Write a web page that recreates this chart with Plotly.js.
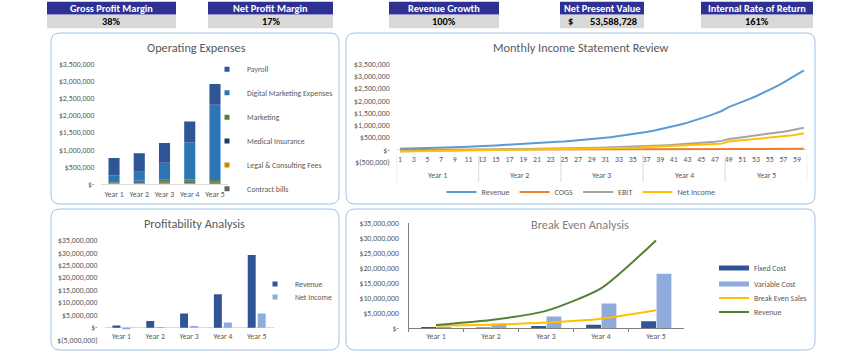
<!DOCTYPE html>
<html><head><meta charset="utf-8">
<script src="https://cdn.plot.ly/plotly-3.0.1.min.js"></script>
<style>html,body{margin:0;padding:0;background:#fff}#chart{width:850px;height:353px}</style>
</head><body><div id="chart"></div>
<script>
// ---------------- DATA ----------------
const years = ['Year 1','Year 2','Year 3','Year 4','Year 5'];

const kpiLabels = ['Gross Profit Margin','Net Profit Margin','Revenue Growth','Net Present Value','Internal Rate of Return'];
const kpiValues = ['38%','17%','100%','53,588,728','161%'];

// Operating expenses (stack bottom -> top)
const opexContract  = [15000, 16000, 17000, 18000, 19000];
const opexLegal     = [12000, 13000, 25000, 20000, 22000];
const opexMedical   = [20000, 22000, 24000, 26000, 28000];
const opexMarketing = [40000, 45000, 55000, 70000, 75000];
const opexDigital   = [160000, 260000, 500000, 1090000, 2170000];
const opexPayroll   = [510000, 540000, 580000, 600000, 610000];
const opexTickVals = [0,500000,1000000,1500000,2000000,2500000,3000000,3500000];
const opexTickText = ['$-','$500,000','$1,000,000','$1,500,000','$2,000,000','$2,500,000','$3,000,000','$3,500,000'];

// Monthly income statement
const months = [1,2,3,4,5,6,7,8,9,10,11,12,13,14,15,16,17,18,19,20,21,22,23,24,25,26,27,28,29,30,
  31,32,33,34,35,36,37,38,39,40,41,42,43,44,45,46,47,48,49,50,51,52,53,54,55,56,57,58,59,60];
const revMonthly = [45000,50000,55000,61000,68000,75000,83000,92000,102000,113000,126000,130000,
  155000,166000,178000,191000,205000,220000,236000,253000,271000,290000,311000,324000,
  340000,362000,386000,411000,438000,466000,496000,528000,562000,599000,638000,674000,
  725000,779000,836000,898000,964000,1035000,1112000,1194000,1282000,1377000,1479000,1589000,
  1750000,1852000,1959000,2073000,2193000,2320000,2455000,2597000,2748000,2907000,3076000,3254000];
const cogsMonthly = [2000,2000,2000,2000,3000,3000,3000,3000,4000,4000,4000,4000,
  5000,5000,5000,6000,6000,6000,7000,7000,7000,8000,8000,8000,
  9000,9000,10000,10000,11000,11000,12000,12000,13000,13000,14000,14000,
  15000,15000,16000,16000,17000,17000,18000,18000,19000,19000,20000,20000,
  22000,24000,30000,32000,33000,34000,35000,36000,37000,38000,39000,40000];
const ebitMonthly = [-55000,-51000,-47000,-44000,-41000,-38000,-34000,-31000,-27000,-24000,-20000,-16000,
  6000,10000,14000,18000,22000,26000,30000,34000,39000,44000,49000,54000,
  60000,65000,70000,76000,82000,88000,95000,102000,110000,118000,126000,135000,
  145000,158000,172000,187000,203000,220000,238000,258000,280000,305000,333000,365000,
  440000,475000,510000,545000,580000,615000,655000,695000,740000,790000,845000,905000];
const niMonthly = [-75000,-70000,-66000,-62000,-58000,-54000,-50000,-46000,-42000,-38000,-34000,-30000,
  5000,8000,11000,14000,17000,20000,23000,26000,29000,32000,36000,40000,
  35000,38000,42000,45000,49000,53000,57000,61000,65000,70000,75000,80000,
  115000,124000,133000,143000,153000,164000,176000,189000,203000,218000,234000,252000,
  340000,365000,390000,415000,440000,465000,490000,515000,545000,580000,625000,680000];
const monthTickVals = [1,3,5,7,9,11,13,15,17,19,21,23,25,27,29,31,33,35,37,39,41,43,45,47,49,51,53,55,57,59];
const monthTickText = ['1','3','5','7','9','11','13','15','17','19','21','23','25','27','29','31','33','35','37','39','41','43','45','47','49','51','53','55','57','59'];
const monthsPerYear = 12;
const monthlyTickVals = [-500000,0,500000,1000000,1500000,2000000,2500000,3000000,3500000];
const monthlyTickText = ['$(500,000)','$-','$500,000','$1,000,000','$1,500,000','$2,000,000','$2,500,000','$3,000,000','$3,500,000'];

// Profitability
const profRevenue   = [930000, 2700000, 5700000, 13400000, 29100000];
const profNetIncome = [-600000, 270000, 670000, 2100000, 5700000];
const profTickVals = [-5000000,0,5000000,10000000,15000000,20000000,25000000,30000000,35000000];
const profTickText = ['$(5,000,000)','$-','$5,000,000','$10,000,000','$15,000,000','$20,000,000','$25,000,000','$30,000,000','$35,000,000'];

// Break even
const beFixed    = [450000, 300000, 780000, 1220000, 2330000];
const beVariable = [450000, 1550000, 3900000, 8300000, 18200000];
const beSales    = [870000, 1200000, 1900000, 3200000, 6000000];
const beRevenue  = [1100000, 2770000, 5800000, 13300000, 29300000];
const beTickVals = [0,5000000,10000000,15000000,20000000,25000000,30000000,35000000];
const beTickText = ['$-','$5,000,000','$10,000,000','$15,000,000','$20,000,000','$25,000,000','$30,000,000','$35,000,000'];

// ---------------- STYLE / LAYOUT HELPERS ----------------
const W = 850, H = 353;
const px = x => x / W;
const py = y => 1 - y / H;
const FONT = 'Calibri, Carlito, Lato, "Open Sans", sans-serif';
const TXT = '#595959';

function rr(x0, y0, x1, y1, r) {
  return `M${px(x0+r)},${py(y0)} L${px(x1-r)},${py(y0)} Q${px(x1)},${py(y0)} ${px(x1)},${py(y0+r)} ` +
         `L${px(x1)},${py(y1-r)} Q${px(x1)},${py(y1)} ${px(x1-r)},${py(y1)} L${px(x0+r)},${py(y1)} ` +
         `Q${px(x0)},${py(y1)} ${px(x0)},${py(y1-r)} L${px(x0)},${py(y0+r)} Q${px(x0)},${py(y0)} ${px(x0+r)},${py(y0)} Z`;
}
function leg(textX, cy, extra) {
  return Object.assign({x: px(textX - 40), y: py(cy), xanchor: 'left', yanchor: 'middle',
    bgcolor: 'rgba(0,0,0,0)', borderwidth: 0, font: {family: FONT, size: 7.8, color: TXT},
    itemclick: false, itemdoubleclick: false}, extra || {});
}
function cumBase(arrs, i) { // base for stack level i, built from the data arrays
  return arrs[0].map((_, k) => arrs.slice(0, i).reduce((s, a) => s + a[k], 0));
}

const traces = [];

// ---- Operating expenses (stacked) ----
const opexStack = [opexContract, opexLegal, opexMedical, opexMarketing, opexDigital, opexPayroll];
const opexNames = ['Contract bills','Legal & Consulting Fees','Medical Insurance','Marketing','Digital Marketing Expenses','Payroll'];
const opexColors = ['#636363','#BF9000','#203864','#548235','#2E75B6','#2F5597'];
const opexLegY = [188.7, 165, 141, 117.3, 92.7, 69.3];
opexStack.forEach((arr, i) => {
  traces.push({type: 'bar', x: years, y: arr, base: cumBase(opexStack, i), width: 0.44, offset: -0.22,
    marker: {color: opexColors[i], line: {width: 0}}, xaxis: 'x', yaxis: 'y', showlegend: false, name: opexNames[i],
    hoverinfo: 'skip'});
  traces.push({type: 'scatter', mode: 'markers', x: [null], y: [null], name: opexNames[i],
    marker: {symbol: 'square', size: 5, color: opexColors[i]}, legend: 'legend' + (i === 0 ? '' : (i + 1)), showlegend: true});
});

// ---- Monthly ----
const mNames = ['Revenue','COGS','EBIT','Net Income'];
const mData = [revMonthly, cogsMonthly, ebitMonthly, niMonthly];
const mColors = ['#5B9BD5','#ED7D31','#A5A5A5','#FFC000'];
mData.forEach((arr, i) => {
  traces.push({type: 'scatter', mode: 'lines', x: months, y: arr, name: mNames[i],
    line: {color: mColors[i], width: 2}, xaxis: 'x2', yaxis: 'y2', legend: 'legend7', showlegend: true});
});

// ---- Profitability ----
traces.push({type: 'bar', x: years, y: profRevenue, width: 0.235, offset: -0.265, marker: {color: '#2F5597'},
  xaxis: 'x3', yaxis: 'y3', showlegend: false, name: 'Revenue'});
traces.push({type: 'bar', x: years, y: profNetIncome, width: 0.235, offset: 0.03, marker: {color: '#8FAADC'},
  xaxis: 'x3', yaxis: 'y3', showlegend: false, name: 'Net Income'});
traces.push({type: 'scatter', mode: 'markers', x: [null], y: [null], name: 'Revenue',
  marker: {symbol: 'square', size: 5, color: '#2F5597'}, legend: 'legend8'});
traces.push({type: 'scatter', mode: 'markers', x: [null], y: [null], name: 'Net Income',
  marker: {symbol: 'square', size: 5, color: '#8FAADC'}, legend: 'legend9'});

// ---- Break even ----
traces.push({type: 'bar', x: years, y: beFixed, width: 0.27, offset: -0.27, marker: {color: '#2F5597'},
  xaxis: 'x4', yaxis: 'y4', showlegend: false, name: 'Fixed Cost'});
traces.push({type: 'bar', x: years, y: beVariable, width: 0.27, offset: 0.01, marker: {color: '#8FAADC'},
  xaxis: 'x4', yaxis: 'y4', showlegend: false, name: 'Variable Cost'});
traces.push({type: 'scatter', mode: 'lines', x: years, y: beSales, name: 'Break Even Sales',
  line: {color: '#FFC000', width: 2, shape: 'spline', smoothing: 0.6}, xaxis: 'x4', yaxis: 'y4', legend: 'legend12'});
traces.push({type: 'scatter', mode: 'lines', x: years, y: beRevenue, name: 'Revenue',
  line: {color: '#548235', width: 2, shape: 'spline', smoothing: 0.6}, xaxis: 'x4', yaxis: 'y4', legend: 'legend13'});
traces.push({type: 'scatter', mode: 'lines', x: [null], y: [null], name: 'Fixed Cost',
  line: {color: '#2F5597', width: 5}, legend: 'legend10'});
traces.push({type: 'scatter', mode: 'lines', x: [null], y: [null], name: 'Variable Cost',
  line: {color: '#8FAADC', width: 5}, legend: 'legend11'});

// ---------------- LAYOUT ----------------
const tickF = {family: FONT, size: 7.8, color: TXT};
const layout = {
  width: W, height: H, margin: {l: 0, r: 0, t: 0, b: 0},
  paper_bgcolor: '#ffffff', plot_bgcolor: 'rgba(0,0,0,0)',
  barmode: 'overlay', showlegend: true,
  font: {family: FONT, color: TXT},
  // opex
  xaxis: {domain: [px(101.4), px(227.6)], anchor: 'y', type: 'category', range: [-0.5, 4.5],
    showline: true, linecolor: '#D9D9D9', linewidth: 1, ticks: '', showgrid: false, zeroline: false,
    tickfont: tickF, ticklabelstandoff: 3, fixedrange: true},
  yaxis: {domain: [py(184), py(64.3)], anchor: 'x', range: [0, 3500000], tickvals: opexTickVals, ticktext: opexTickText,
    showgrid: false, zeroline: false, showline: false, ticks: '', tickfont: tickF, ticklabelstandoff: 6, fixedrange: true},
  // monthly
  xaxis2: {domain: [px(396.6), px(807.3)], anchor: 'free', position: py(153), range: [0.5, 60.5],
    tickvals: monthTickVals, ticktext: monthTickText, showgrid: false, zeroline: false, showline: false, ticks: '',
    tickfont: tickF, tickangle: 0, fixedrange: true},
  yaxis2: {domain: [py(162), py(64.3)], anchor: 'x2', range: [-500000, 3500000], tickvals: monthlyTickVals, ticktext: monthlyTickText,
    showgrid: false, zeroline: true, zerolinecolor: '#D9D9D9', zerolinewidth: 1, showline: false, ticks: '',
    tickfont: tickF, ticklabelstandoff: 6, fixedrange: true},
  // profitability
  xaxis3: {domain: [px(104.5), px(273.6)], anchor: 'free', position: py(330), type: 'category', range: [-0.5, 4.5],
    showgrid: false, zeroline: false, showline: false, ticks: '', tickfont: tickF, fixedrange: true},
  yaxis3: {domain: [py(340.2), py(240.3)], anchor: 'x3', range: [-5000000, 35000000], tickvals: profTickVals, ticktext: profTickText,
    showgrid: false, zeroline: true, zerolinecolor: '#D9D9D9', zerolinewidth: 1, showline: false, ticks: '',
    tickfont: tickF, ticklabelstandoff: 6, fixedrange: true},
  // break even
  xaxis4: {domain: [px(408.5), px(683.5)], anchor: 'y4', type: 'category', range: [-0.5, 4.5],
    showline: true, linecolor: '#7F7F7F', linewidth: 1, ticks: 'outside', tickson: 'boundaries', ticklen: 3,
    tickcolor: '#7F7F7F', showgrid: false, zeroline: false, tickfont: tickF, fixedrange: true},
  yaxis4: {domain: [py(328.3), py(223.3)], anchor: 'x4', range: [0, 35000000], tickvals: beTickVals, ticktext: beTickText,
    showline: true, linecolor: '#7F7F7F', linewidth: 1, showgrid: false, zeroline: false, ticks: '',
    tickfont: tickF, ticklabelstandoff: 7, fixedrange: true},
  // legends
  legend:  leg(247, opexLegY[0]),
  legend2: leg(247, opexLegY[1]),
  legend3: leg(247, opexLegY[2]),
  legend4: leg(247, opexLegY[3]),
  legend5: leg(247, opexLegY[4]),
  legend6: leg(247, opexLegY[5]),
  legend7: {orientation: 'h', x: px(581), y: py(192), xanchor: 'center', yanchor: 'middle', bgcolor: 'rgba(0,0,0,0)',
    font: {family: FONT, size: 8, color: TXT}, itemclick: false, itemdoubleclick: false},
  legend8: leg(295, 284),
  legend9: leg(295, 297),
  legend10: leg(754, 268),
  legend11: leg(754, 284),
  legend12: leg(754, 298),
  legend13: leg(754, 312),
  shapes: [], annotations: []
};

// panels
[[51, 33, 339, 204], [346, 33, 815, 204], [51, 209, 339, 350], [346, 209, 815, 350]].forEach(b => {
  layout.shapes.push({type: 'path', xref: 'paper', yref: 'paper', path: rr(b[0], b[1], b[2], b[3], 9),
    line: {color: '#9DC3E6', width: 1}, fillcolor: 'rgba(0,0,0,0)', layer: 'below'});
});

// titles
[['Operating Expenses', 196, 47, '#595959'], ['Monthly Income Statement Review', 581, 47, '#595959'],
 ['Profitability Analysis', 194, 223, '#595959'], ['Break Even Analysis', 580, 224, '#808080']].forEach(t => {
  layout.annotations.push({text: t[0], xref: 'paper', yref: 'paper', x: px(t[1]), y: py(t[2]),
    xanchor: 'center', yanchor: 'middle', showarrow: false, font: {family: FONT, size: 12.3, color: t[3]}});
});

// monthly year groups
for (let i = 0; i <= years.length; i++) {
  const b = 0.5 + i * monthsPerYear;
  layout.shapes.push({type: 'line', xref: 'x2', yref: 'paper', x0: b, x1: b, y0: py(155), y1: py(182),
    line: {color: '#D9D9D9', width: 1}});
}
years.forEach((yr, i) => {
  layout.annotations.push({text: yr, xref: 'x2', yref: 'paper', x: (monthsPerYear * i) + (monthsPerYear + 1) / 2,
    y: py(175), xanchor: 'center', yanchor: 'middle', showarrow: false, font: tickF});
});

// KPI boxes
const kpiX = [[47, 176], [208, 333], [389, 499], [560, 644], [701, 813]];
kpiLabels.forEach((lab, i) => {
  const [a, b] = kpiX[i];
  layout.shapes.push({type: 'rect', xref: 'paper', yref: 'paper', x0: px(a), x1: px(b), y0: py(14.4), y1: py(1.8),
    fillcolor: '#2E3192', line: {width: 0}});
  layout.shapes.push({type: 'rect', xref: 'paper', yref: 'paper', x0: px(a), x1: px(b), y0: py(28.3), y1: py(15),
    fillcolor: '#D9D9D9', line: {width: 0}});
  layout.annotations.push({text: '<b>' + lab + '</b>', xref: 'paper', yref: 'paper', x: px((a + b) / 2), y: py(8.2),
    xanchor: 'center', yanchor: 'middle', showarrow: false, font: {family: FONT, size: 10.3, color: '#ffffff'}});
  if (i === 3) {
    layout.annotations.push({text: '<b>$</b>', xref: 'paper', yref: 'paper', x: px(566), y: py(21.7),
      xanchor: 'left', yanchor: 'middle', showarrow: false, font: {family: FONT, size: 10.3, color: '#000000'}});
    layout.annotations.push({text: '<b>' + kpiValues[i] + '</b>', xref: 'paper', yref: 'paper', x: px(639), y: py(21.7),
      xanchor: 'right', yanchor: 'middle', showarrow: false, font: {family: FONT, size: 10.3, color: '#000000'}});
  } else {
    layout.annotations.push({text: '<b>' + kpiValues[i] + '</b>', xref: 'paper', yref: 'paper', x: px((a + b) / 2), y: py(21.7),
      xanchor: 'center', yanchor: 'middle', showarrow: false, font: {family: FONT, size: 10.3, color: '#000000'}});
  }
});

Plotly.newPlot('chart', traces, layout, {staticPlot: true, displayModeBar: false});
</script>
</body></html>
